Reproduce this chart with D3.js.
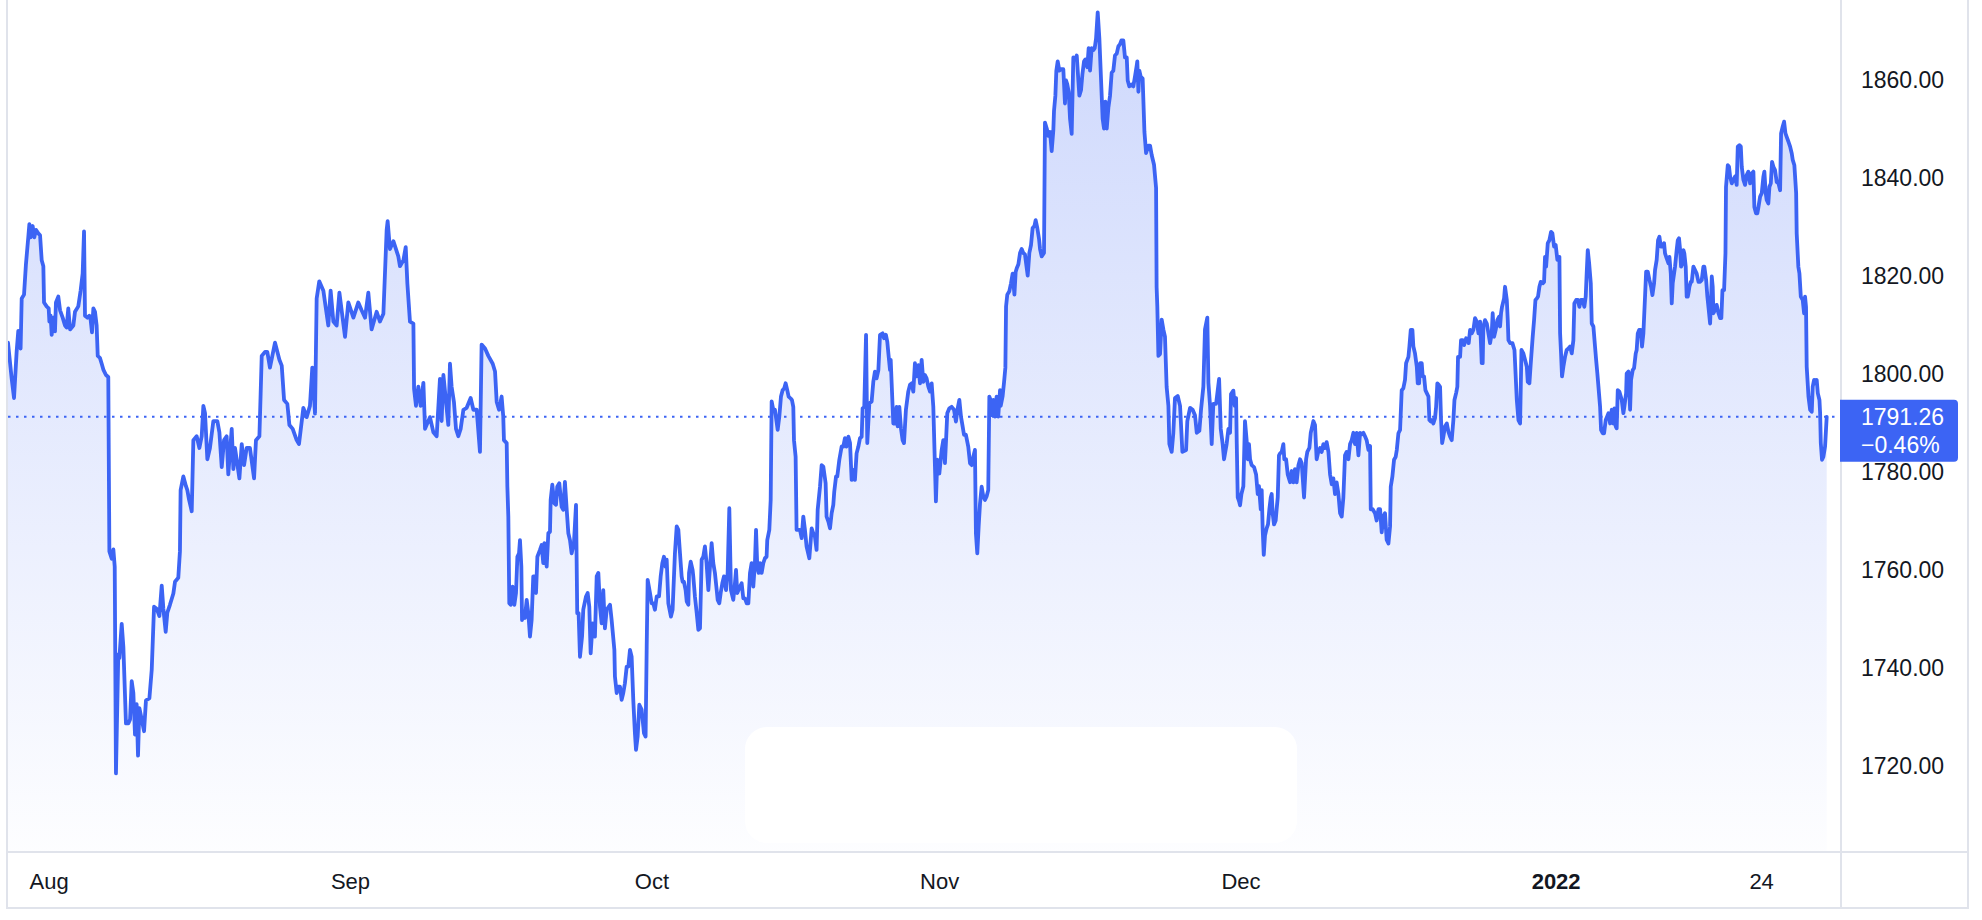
<!DOCTYPE html>
<html>
<head>
<meta charset="utf-8">
<script src="https://cdn.jsdelivr.net/npm/d3@7"></script>
<style>
  html, body { margin: 0; padding: 0; background: #ffffff; }
  svg { display: block; }
  text { font-family: "Liberation Sans", Arial, sans-serif; }
</style>
</head>
<body>
<svg id="chart" width="1982" height="920"></svg>
<script>
// ---- data (trading-day offset from 2021-07-28, price) ----
const series = [
[0,1806.4],[0.27,1799.0],[0.44,1795.1],[0.63,1804.5],[0.75,1808.8],[0.92,1805.2],[1.0,1815.4],[1.17,1816.2],[1.31,1822.4],[1.48,1827.9],[1.56,1830.6],[1.65,1827.9],[1.80,1830.2],[1.92,1827.9],[2.04,1829.4],[2.21,1828.7],[2.34,1828.3],[2.46,1823.2],[2.58,1822.0],[2.63,1814.6],[2.82,1813.8],[2.97,1813.4],[3.02,1810.7],[3.11,1811.9],[3.19,1808.0],[3.31,1811.5],[3.43,1808.7],[3.50,1814.6],[3.67,1815.8],[3.80,1813.0],[3.99,1811.5],[4.16,1809.9],[4.28,1809.5],[4.40,1813.4],[4.53,1809.1],[4.65,1809.5],[4.77,1809.9],[4.89,1812.7],[5.13,1813.8],[5.30,1817.0],[5.45,1820.5],[5.55,1829.1],[5.62,1811.9],[5.79,1811.5],[5.94,1811.9],[6.03,1811.1],[6.13,1808.5],[6.23,1813.4],[6.35,1812.7],[6.47,1809.9],[6.55,1803.7],[6.71,1803.3],[6.84,1802.1],[6.96,1800.9],[7.15,1799.8],[7.32,1799.4],[7.40,1763.8],[7.57,1762.3],[7.69,1764.2],[7.79,1760.7],[7.88,1718.5],[8.05,1742.8],[8.13,1742.0],[8.30,1749.0],[8.42,1744.3],[8.61,1728.7],[8.78,1728.7],[8.91,1729.5],[9.03,1737.3],[9.15,1734.9],[9.27,1726.4],[9.39,1732.6],[9.49,1722.1],[9.59,1731.8],[9.76,1729.5],[9.93,1727.1],[10.07,1733.4],[10.32,1733.8],[10.49,1739.6],[10.66,1752.5],[10.85,1752.1],[11.05,1750.6],[11.22,1756.8],[11.34,1752.1],[11.51,1747.4],[11.63,1751.3],[11.82,1752.9],[12.07,1755.2],[12.19,1757.6],[12.43,1758.4],[12.55,1763.8],[12.60,1776.3],[12.80,1779.1],[12.99,1777.1],[13.09,1776.3],[13.21,1774.4],[13.41,1772.0],[13.53,1786.5],[13.77,1787.3],[13.97,1784.9],[14.14,1787.3],[14.26,1793.5],[14.38,1792.0],[14.55,1782.6],[14.74,1784.9],[14.99,1790.4],[15.28,1790.4],[15.43,1788.1],[15.60,1781.0],[15.77,1786.5],[15.96,1787.3],[16.08,1779.5],[16.33,1788.8],[16.45,1780.6],[16.57,1784.9],[16.89,1778.7],[17.06,1785.7],[17.23,1781.4],[17.42,1784.9],[17.66,1784.9],[17.96,1778.7],[18.10,1786.5],[18.35,1787.3],[18.44,1795.9],[18.52,1803.7],[18.76,1804.5],[18.93,1804.5],[19.12,1801.3],[19.49,1806.4],[19.81,1802.9],[19.98,1801.7],[20.15,1794.7],[20.39,1793.9],[20.54,1789.6],[20.78,1788.8],[21.07,1786.5],[21.24,1785.7],[21.56,1793.1],[21.80,1791.2],[22.04,1793.5],[22.21,1801.3],[22.41,1791.9],[22.53,1815.4],[22.72,1818.9],[23.02,1817.0],[23.14,1814.6],[23.38,1809.9],[23.55,1817.0],[23.75,1810.7],[23.99,1809.9],[24.19,1816.6],[24.60,1807.6],[24.84,1814.6],[25.21,1811.5],[25.57,1814.6],[25.81,1813.0],[26.06,1811.5],[26.30,1816.6],[26.54,1809.1],[26.91,1812.7],[27.15,1810.7],[27.40,1812.3],[27.64,1829.4],[27.71,1831.2],[27.88,1825.5],[28.13,1827.1],[28.49,1824.0],[28.61,1822.0],[28.86,1823.2],[29.03,1825.9],[29.15,1818.5],[29.34,1810.7],[29.59,1810.3],[29.64,1797.0],[29.78,1793.5],[29.95,1797.4],[30.12,1793.5],[30.32,1798.2],[30.44,1788.8],[30.80,1791.2],[31.05,1788.1],[31.29,1787.3],[31.53,1799.0],[31.65,1790.4],[31.78,1799.8],[32.14,1789.6],[32.26,1802.1],[32.38,1797.4],[32.55,1794.3],[32.70,1788.8],[32.87,1787.3],[33.04,1788.8],[33.24,1792.7],[33.48,1793.1],[33.77,1795.1],[33.97,1792.7],[34.21,1792.7],[34.45,1784.1],[34.57,1806.0],[34.82,1805.2],[35.06,1803.7],[35.38,1802.1],[35.55,1800.5],[35.67,1794.3],[35.84,1792.7],
[36.03,1795.4],[36.15,1791.3],[36.20,1786.5],[36.40,1785.9],[36.45,1777.0],[36.52,1770.9],[36.59,1753.2],[36.69,1752.9],[36.83,1756.6],[36.96,1752.9],[37.08,1755.3],[37.18,1762.7],[37.30,1763.4],[37.37,1766.1],[37.47,1760.7],[37.52,1749.8],[37.61,1751.2],[37.73,1750.2],[37.86,1753.9],[37.98,1751.2],[38.10,1746.4],[38.22,1749.8],[38.34,1758.7],[38.49,1758.7],[38.54,1755.3],[38.64,1762.7],[38.83,1764.1],[38.95,1765.1],[39.07,1761.4],[39.15,1765.5],[39.32,1760.7],[39.44,1767.5],[39.56,1767.8],[39.61,1774.3],[39.73,1777.4],[39.88,1773.6],[40.00,1773.3],[40.09,1777.0],[40.24,1777.7],[40.41,1772.9],[40.53,1772.3],[40.65,1778.0],[40.78,1772.3],[40.90,1767.5],[41.02,1766.1],[41.14,1763.4],[41.31,1765.5],[41.46,1773.3],[41.55,1751.2],[41.65,1751.2],[41.75,1742.3],[41.90,1746.4],[41.99,1751.9],[42.19,1754.6],[42.31,1755.3],[42.43,1752.5],[42.53,1743.0],[42.67,1749.1],[42.84,1746.4],[42.97,1758.7],[43.09,1759.4],[43.21,1752.5],[43.33,1749.1],[43.45,1755.9],[43.57,1748.1],[43.70,1751.9],[43.94,1752.9],[44.06,1749.8],[44.26,1743.7],[44.30,1738.3],[44.43,1734.9],[44.55,1736.2],[44.67,1736.2],[44.79,1733.5],[44.91,1734.9],[45.03,1736.9],[45.16,1740.3],[45.28,1740.3],[45.40,1743.7],[45.52,1742.3],[45.64,1733.5],[45.76,1726.7],[45.84,1723.3],[45.96,1726.0],[46.08,1732.5],[46.25,1731.5],[46.42,1726.7],[46.54,1726.0],[46.62,1744.4],[46.69,1758.0],[46.86,1755.3],[46.98,1753.2],[47.10,1753.2],[47.22,1751.9],[47.35,1754.6],[47.52,1754.6],[47.64,1758.7],[47.76,1761.4],[47.88,1762.7],[48.00,1760.7],[48.08,1762.1],[48.20,1753.2],[48.39,1750.5],[48.51,1751.9],[48.68,1763.4],[48.81,1768.9],[48.93,1768.2],[49.05,1763.4],[49.17,1758.7],[49.24,1757.6],[49.34,1757.6],[49.46,1755.9],[49.54,1753.6],[49.66,1752.9],[49.71,1759.4],[49.83,1761.7],[49.97,1760.0],[50.02,1758.7],[50.14,1754.6],[50.27,1751.2],[50.39,1747.8],[50.51,1748.1],[50.63,1762.1],[50.75,1762.7],[50.87,1764.8],[50.99,1761.4],[51.12,1755.9],[51.24,1760.7],[51.36,1765.5],[51.48,1761.4],[51.60,1759.4],[51.73,1755.9],[51.80,1753.9],[51.92,1753.2],[52.02,1755.3],[52.14,1757.3],[52.26,1758.7],[52.41,1755.9],[52.53,1759.4],[52.65,1772.6],[52.77,1755.9],[52.94,1753.9],[53.06,1757.3],[53.14,1760.0],[53.23,1755.3],[53.38,1756.3],[53.55,1757.3],[53.67,1754.2],[53.79,1754.2],[53.92,1753.2],[54.04,1753.2],[54.16,1759.4],[54.28,1761.4],[54.40,1756.6],[54.52,1761.4],[54.60,1768.2],[54.69,1760.7],[54.79,1759.4],[54.89,1761.4],[55.01,1759.4],[55.13,1761.4],[55.25,1762.4],[55.37,1762.7],[55.42,1766.1],[55.57,1768.2],[55.67,1774.3],[55.74,1794.4],[55.86,1792.7],[55.98,1792.7],[56.18,1788.6],[56.30,1791.3],[56.42,1795.4],[56.54,1796.7],[56.66,1797.1],[56.76,1798.1],[56.88,1796.7],[56.98,1795.4],[57.13,1795.0],[57.22,1794.7],[57.32,1793.3],[57.37,1786.5],[57.49,1783.1],[57.56,1768.2],[57.69,1768.2],[57.81,1768.2],[57.93,1766.5],[58.05,1770.9],[58.17,1768.2],[58.29,1764.8],[58.49,1762.4],[58.66,1768.5],[58.78,1767.5],[58.90,1766.8],[59.02,1764.1],[59.10,1772.3],[59.27,1777.0],[59.39,1781.4],[59.51,1781.1],[59.68,1777.7],[59.75,1770.9],[59.88,1769.9],[60.00,1768.5],[60.12,1771.6],[60.24,1773.3],[60.31,1776.0],[60.44,1779.1],[60.53,1779.1],[60.68,1782.5],[60.85,1785.2],[60.97,1785.2],[61.09,1786.9],[61.21,1785.2],[61.34,1787.2],[61.46,1785.9],[61.58,1778.4],[61.70,1780.4],[61.82,1778.4],[61.94,1783.8],[62.07,1785.2],[62.19,1786.9],[62.31,1787.2],[62.38,1793.0],[62.50,1793.3],[62.63,1808.0],[62.72,1785.9],[62.87,1794.0],[63.04,1794.4],[63.16,1798.4],[63.28,1800.5],[63.40,1799.1],[63.53,1800.8],[63.65,1808.0],[63.84,1808.3],[63.94,1807.3],[64.08,1808.0],[64.18,1806.6],[64.26,1804.2],[64.38,1800.8],[64.43,1802.9],[64.50,1798.1],[64.62,1789.9],[64.74,1789.9],[64.86,1793.3],[64.94,1789.3],[65.06,1793.3],[65.18,1788.9],[65.30,1786.5],[65.40,1785.9],[65.54,1792.7],[65.71,1796.4],[65.84,1797.8],[65.96,1798.1],[66.08,1796.4],[66.20,1802.2],[66.32,1799.5],[66.45,1801.8],[66.57,1798.1],[66.69,1802.9],[66.81,1798.4],[66.93,1799.8],[67.05,1799.1],[67.18,1797.4],[67.30,1796.4],[67.42,1798.1],[67.54,1793.3],[67.66,1781.1],[67.73,1774.0],[67.83,1782.5],[67.98,1779.7],[68.15,1784.5],[68.27,1786.5],[68.39,1781.8],[68.47,1786.5],[68.56,1792.0],[68.71,1793.0],[68.88,1793.3],[69.05,1792.7],[69.19,1790.3],[69.32,1793.0],[69.44,1794.7],[69.56,1791.3],[69.68,1789.3],[69.78,1787.6],[69.92,1787.6],[70.09,1785.2],[70.22,1781.8],[70.34,1781.4],[70.46,1783.1],[70.58,1784.5],[70.65,1767.5],[70.75,1763.4],[70.85,1768.9],[70.95,1773.6],[71.07,1777.0],[71.19,1775.0],[71.31,1774.3],[71.43,1775.0],[71.55,1776.3],[71.63,1795.4],[71.72,1794.7],[71.80,1791.6],[71.92,1794.7],[72.04,1791.3],[72.16,1795.4],[72.28,1791.3],[72.41,1796.7],
[72.46,1793.5],[72.60,1795.5],[72.70,1798.2],[72.80,1801.3],[72.85,1813.8],[72.94,1816.2],[73.09,1816.9],[73.21,1818.5],[73.33,1820.5],[73.46,1816.2],[73.55,1820.8],[73.63,1821.6],[73.75,1822.4],[73.87,1824.7],[73.99,1825.5],[74.11,1824.7],[74.23,1824.4],[74.36,1821.6],[74.43,1820.1],[74.55,1824.7],[74.67,1826.3],[74.79,1829.8],[74.92,1830.2],[75.01,1831.4],[75.13,1829.8],[75.26,1827.5],[75.33,1825.5],[75.45,1824.0],[75.62,1824.7],[75.69,1851.3],[75.82,1850.1],[75.94,1848.6],[76.06,1849.4],[76.18,1845.5],[76.30,1849.7],[76.35,1853.7],[76.45,1856.8],[76.52,1861.9],[76.62,1863.8],[76.74,1861.9],[76.86,1862.2],[77.03,1862.2],[77.15,1855.2],[77.23,1859.9],[77.32,1859.1],[77.42,1857.6],[77.52,1852.1],[77.64,1849.0],[77.76,1864.6],[77.91,1864.2],[78.01,1865.0],[78.10,1861.1],[78.20,1856.8],[78.32,1857.9],[78.42,1861.1],[78.54,1863.8],[78.64,1864.2],[78.78,1862.6],[78.88,1866.5],[78.98,1861.9],[79.10,1866.5],[79.22,1866.1],[79.32,1866.5],[79.42,1868.5],[79.54,1873.8],[79.66,1868.5],[79.83,1856.8],[79.90,1852.1],[80.00,1850.1],[80.10,1855.6],[80.20,1850.1],[80.32,1854.4],[80.44,1856.8],[80.56,1861.5],[80.68,1861.9],[80.80,1865.0],[80.93,1865.4],[81.05,1866.9],[81.17,1867.3],[81.27,1868.1],[81.41,1868.1],[81.53,1864.6],[81.66,1864.6],[81.73,1859.9],[81.85,1858.7],[82.02,1859.1],[82.14,1858.7],[82.26,1860.7],[82.39,1863.0],[82.43,1863.8],[82.51,1857.6],[82.58,1861.9],[82.68,1860.7],[82.82,1860.3],[82.95,1849.4],[83.07,1845.1],[83.24,1846.6],[83.36,1846.6],[83.48,1844.7],[83.65,1842.7],[83.80,1838.0],[83.84,1817.7],[83.89,1813.8],[83.97,1803.7],[84.09,1804.1],[84.21,1811.1],[84.33,1809.1],[84.45,1807.6],[84.57,1797.4],[84.70,1793.5],[84.77,1785.7],[84.94,1784.1],[85.06,1788.0],[85.18,1795.1],[85.38,1795.5],[85.55,1793.5],[85.72,1784.1],[85.99,1784.5],[86.08,1790.4],[86.28,1793.1],[86.47,1792.7],[86.64,1791.6],[86.77,1788.0],[86.96,1788.4],[87.08,1792.7],[87.25,1797.4],[87.37,1809.1],[87.54,1811.5],[87.62,1798.2],[87.74,1793.5],[87.86,1785.7],[87.98,1793.9],[88.18,1793.9],[88.40,1799.0],[88.52,1788.8],[88.66,1785.7],[88.76,1782.6],[88.95,1785.7],[89.08,1788.8],[89.20,1788.0],[89.27,1795.9],[89.44,1796.6],[89.54,1793.5],[89.64,1795.1],[89.69,1785.7],[89.76,1774.8],[89.86,1774.0],[89.93,1773.2],[90.03,1775.5],[90.17,1777.1],[90.29,1790.4],[90.41,1786.5],[90.49,1782.6],[90.58,1785.7],[90.66,1782.6],[90.78,1781.4],[90.95,1781.0],[91.10,1779.5],[91.22,1775.5],[91.31,1777.1],[91.44,1772.4],[91.51,1776.3],[91.58,1768.5],[91.66,1763.1],[91.75,1767.0],[91.87,1768.5],[91.97,1769.3],[92.07,1772.4],[92.17,1774.8],[92.24,1775.5],[92.31,1771.6],[92.41,1769.3],[92.53,1770.1],[92.60,1772.4],[92.68,1774.8],[92.77,1783.4],[92.85,1783.8],[92.97,1784.1],[93.09,1785.7],[93.16,1782.6],[93.29,1782.6],[93.41,1779.5],[93.58,1777.9],[93.70,1780.2],[93.82,1777.9],[93.94,1780.6],[94.06,1777.9],[94.19,1781.4],[94.31,1782.6],[94.43,1781.8],[94.60,1774.8],[94.75,1782.6],[94.84,1784.1],[94.99,1784.9],[95.09,1788.0],[95.28,1790.4],[95.40,1789.6],[95.52,1782.6],[95.64,1784.1],[95.77,1784.9],[95.89,1784.1],[96.01,1785.7],[96.13,1784.9],[96.25,1786.1],[96.38,1784.1],[96.50,1779.5],[96.62,1777.5],[96.74,1778.7],[96.86,1775.5],[96.98,1777.9],[97.11,1775.5],[97.23,1771.6],[97.35,1770.9],[97.47,1774.8],[97.59,1783.4],[97.71,1784.1],[97.84,1782.6],[97.96,1785.7],[98.08,1786.5],[98.20,1788.0],[98.32,1785.7],[98.44,1788.0],[98.57,1783.4],[98.69,1788.0],[98.81,1787.7],[98.93,1788.0],[99.05,1787.3],[99.17,1786.5],[99.30,1784.5],[99.42,1785.3],[99.47,1772.4],[99.61,1772.4],[99.78,1771.6],[99.90,1770.1],[100.03,1772.4],[100.15,1772.4],[100.27,1767.7],[100.39,1770.9],[100.51,1771.6],[100.63,1766.2],[100.76,1765.4],
[100.88,1768.9],[100.93,1777.0],[101.05,1779.1],[101.17,1782.5],[101.29,1783.1],[101.37,1784.5],[101.49,1787.9],[101.61,1788.6],[101.73,1796.7],[101.85,1797.1],[101.97,1798.8],[102.05,1802.2],[102.22,1803.5],[102.29,1805.6],[102.39,1809.0],[102.51,1809.0],[102.58,1805.6],[102.70,1804.2],[102.83,1801.5],[102.90,1798.1],[103.00,1798.1],[103.07,1802.2],[103.19,1802.2],[103.26,1799.5],[103.36,1799.5],[103.46,1796.7],[103.56,1796.1],[103.68,1795.4],[103.75,1790.6],[103.85,1790.3],[103.95,1790.6],[104.04,1789.9],[104.16,1791.0],[104.24,1793.3],[104.33,1798.1],[104.43,1797.8],[104.53,1797.4],[104.60,1790.6],[104.68,1785.9],[104.77,1787.2],[104.89,1789.3],[105.02,1789.9],[105.14,1788.2],[105.26,1787.2],[105.38,1786.5],[105.50,1790.6],[105.58,1794.7],[105.70,1796.1],[105.79,1797.4],[105.84,1803.5],[105.99,1803.5],[106.06,1806.9],[106.18,1806.9],[106.28,1805.9],[106.43,1807.3],[106.52,1806.9],[106.62,1806.3],[106.72,1809.0],[106.84,1808.3],[106.96,1809.0],[107.08,1811.4],[107.21,1810.7],[107.33,1808.3],[107.45,1810.7],[107.57,1802.2],[107.64,1802.2],[107.69,1809.7],[107.81,1811.0],[107.94,1810.3],[108.06,1808.3],[108.18,1806.3],[108.30,1808.3],[108.37,1812.4],[108.47,1807.6],[108.59,1809.0],[108.71,1811.0],[108.84,1811.7],[108.91,1809.7],[108.98,1812.4],[109.05,1813.7],[109.20,1815.4],[109.27,1817.8],[109.40,1815.1],[109.47,1811.0],[109.52,1806.9],[109.64,1806.3],[109.81,1806.3],[109.96,1804.9],[110.13,1794.7],[110.25,1790.6],[110.37,1789.9],[110.47,1804.9],[110.61,1804.2],[110.73,1802.9],[110.86,1801.5],[110.93,1798.4],[111.05,1798.1],[111.15,1802.2],[111.29,1807.6],[111.39,1811.0],[111.49,1815.1],[111.59,1815.4],[111.68,1815.8],[111.78,1817.8],[111.88,1818.8],[112.02,1818.5],[112.12,1818.8],[112.19,1823.9],[112.27,1821.9],[112.39,1826.7],[112.51,1827.3],[112.63,1829.0],[112.73,1828.7],[112.85,1826.0],[112.97,1826.3],[113.09,1823.3],[113.24,1823.9],[113.29,1808.3],[113.36,1804.2],[113.43,1799.5],[113.53,1801.5],[113.65,1803.5],[113.77,1804.9],[113.90,1805.2],[114.02,1805.6],[114.14,1804.2],[114.26,1806.9],[114.33,1814.4],[114.46,1815.1],[114.58,1815.1],[114.70,1813.7],[114.80,1815.1],[114.94,1815.1],[115.06,1813.7],[115.16,1815.8],[115.23,1820.5],[115.31,1825.3],[115.41,1822.6],[115.53,1818.5],[115.60,1810.3],[115.72,1809.7],[115.84,1805.6],[115.92,1802.9],[116.01,1800.1],[116.09,1797.4],[116.21,1793.3],[116.28,1788.6],[116.40,1787.9],[116.50,1787.9],[116.62,1790.6],[116.72,1791.3],[116.82,1792.0],[116.94,1789.9],[117.06,1792.7],[117.18,1789.9],[117.25,1793.0],[117.35,1789.3],[117.42,1788.9],[117.50,1796.7],[117.62,1796.4],[117.72,1795.4],[117.79,1794.7],[117.91,1792.0],[117.98,1793.3],[118.11,1796.1],[118.15,1800.1],[118.28,1800.5],[118.40,1792.7],[118.47,1798.8],[118.59,1800.8],[118.69,1801.2],[118.81,1804.2],[118.88,1804.9],[118.96,1808.3],[119.06,1809.0],[119.18,1809.0],[119.27,1805.6],[119.37,1808.3],[119.49,1815.8],[119.57,1820.9],[119.69,1820.9],[119.81,1819.2],[119.93,1817.8],[120.03,1816.1],[120.15,1818.5],[120.22,1821.2],[120.34,1823.3],[120.44,1827.3],[120.54,1828.0],[120.64,1826.0],[120.76,1826.0],[120.88,1826.7],[120.95,1824.6],[121.07,1823.6],[121.20,1822.6],[121.27,1823.9],[121.37,1820.5],[121.44,1814.4],[121.51,1818.5],[121.61,1820.5],[121.68,1821.9],[121.80,1825.3],[121.88,1827.3],[121.97,1827.7],[122.05,1825.3],[122.12,1821.9],[122.22,1822.6],[122.29,1825.3],[122.36,1824.6],[122.46,1821.9],[122.53,1815.8],[122.61,1815.8],[122.66,1816.5],[122.73,1817.8],[122.83,1818.8],[122.90,1818.8],[123.02,1821.9],[123.14,1821.2],[123.26,1820.5],[123.39,1818.8],[123.51,1818.8],[123.63,1819.2],[123.75,1821.9],[123.82,1821.9],[123.95,1819.2],[124.04,1815.8],[124.14,1813.1],[124.24,1810.3],[124.31,1815.1],[124.36,1819.9],[124.43,1817.8],[124.48,1812.4],[124.60,1813.1],[124.72,1814.1],[124.85,1812.4],[124.97,1811.4],[125.06,1811.4],[125.14,1817.1],[125.26,1817.1],[125.36,1824.6],[125.40,1838.2],[125.53,1842.6],[125.62,1842.3],[125.70,1840.3],[125.82,1838.9],[125.94,1839.6],[126.06,1840.3],[126.18,1838.6],[126.26,1846.4],[126.38,1846.7],[126.48,1846.4],[126.55,1842.3],[126.67,1839.6],[126.79,1838.6],[126.91,1840.6],[127.03,1841.3],[127.16,1838.9],[127.28,1840.9],[127.40,1841.3],[127.47,1834.1],[127.59,1832.8],[127.69,1832.8],[127.77,1834.1],[127.89,1836.2],[128.01,1836.9],[128.13,1840.3],[128.20,1841.3],[128.30,1836.9],[128.37,1835.5],[128.49,1834.8],[128.57,1838.2],[128.67,1838.9],[128.76,1843.3],[128.86,1842.3],[128.98,1841.6],[129.10,1839.2],[129.23,1838.9],[129.35,1837.5],[129.42,1849.1],[129.54,1850.5],[129.64,1851.5],[129.74,1849.1],[129.83,1848.4],[129.96,1847.4],[130.08,1846.4],[130.20,1845.0],[130.27,1843.7],[130.39,1842.6],[130.52,1836.9],[130.56,1828.7],[130.68,1821.9],[130.76,1820.5],[130.86,1815.8],[131.00,1815.1],[131.10,1812.4],[131.17,1815.8],[131.24,1813.7],[131.29,1801.5],[131.42,1795.4],[131.54,1792.7],[131.66,1792.3],[131.73,1797.4],[131.83,1798.8],[131.90,1798.1],[132.02,1798.8],[132.10,1796.1],[132.22,1794.7],[132.27,1792.0],[132.32,1785.9],[132.41,1782.5],[132.51,1783.1],[132.63,1785.2],[132.75,1791.26]
];

const startDate = "2021-07-28";          // trading day 0
const lastDay = 132.75;                  // end of the visible range (trading days)
const tickLabels = ["Aug", "Sep", "Oct", "Nov", "Dec", "2022", "24"];
const tickDates  = ["2021-08-02", "2021-09-01", "2021-10-01", "2021-11-01", "2021-12-01", "2022-01-03", "2022-01-24"];
const tickBold   = [false, false, false, false, false, true, false];
const priceTicks = [1720, 1740, 1760, 1780, 1800, 1820, 1840, 1860];
const changePct  = -0.46;

// ---- layout ----
const W = 1982, H = 920;
const plotLeft = 8, plotRight = 1841, plotBottom = 852, axisBottom = 908, scaleRight = 1968;
const lineColor = "#3c64f4", gridColor = "#e0e3eb", textColor = "#131722";

const svg = d3.select("#chart");
svg.append("rect").attr("width", W).attr("height", H).attr("fill", "#ffffff");

// trading-day index (weekdays only) for a date
const parse = d3.timeParse("%Y-%m-%d");
function tradingIndex(s) {
  return d3.timeDay.range(parse(startDate), parse(s)).filter(d => d.getDay() % 6 !== 0).length;
}

const x = d3.scaleLinear().domain([0, lastDay]).range([plotLeft, 1826.7]);
const y = d3.scaleLinear().domain([1720, 1860]).range([766, 80]);

// gradient
const defs = svg.append("defs");
const maxV = d3.max(series, d => d[1]);
const grad = defs.append("linearGradient").attr("id", "fillGrad")
  .attr("gradientUnits", "userSpaceOnUse")
  .attr("x1", 0).attr("x2", 0).attr("y1", y(maxV)).attr("y2", plotBottom);
grad.append("stop").attr("offset", 0).attr("stop-color", lineColor).attr("stop-opacity", 0.25);
grad.append("stop").attr("offset", 1).attr("stop-color", lineColor).attr("stop-opacity", 0.01);

const area = d3.area().x(d => x(d[0])).y0(plotBottom).y1(d => y(d[1]));
svg.append("path").datum(series).attr("d", area).attr("fill", "url(#fillGrad)");

// white rounded panel overlay near the bottom
svg.append("rect").attr("x", 745).attr("y", 727).attr("width", 552).attr("height", 116)
  .attr("rx", 22).attr("fill", "#ffffff");

// last price dotted line
const lastPrice = series[series.length - 1][1];
svg.append("line").attr("x1", plotLeft).attr("x2", plotRight)
  .attr("y1", y(lastPrice)).attr("y2", y(lastPrice))
  .attr("stroke", lineColor).attr("stroke-width", 2).attr("stroke-dasharray", "2.5,5.5");

// price line
const line = d3.line().x(d => x(d[0])).y(d => y(d[1]));
svg.append("path").datum(series).attr("d", line)
  .attr("fill", "none").attr("stroke", lineColor).attr("stroke-width", 3.8)
  .attr("stroke-linejoin", "round").attr("stroke-linecap", "round");

// frame lines
const frame = svg.append("g").attr("stroke", gridColor).attr("stroke-width", 2);
[7, plotRight, scaleRight].forEach(xx => frame.append("line").attr("x1", xx).attr("x2", xx).attr("y1", 0).attr("y2", axisBottom));
[plotBottom, axisBottom].forEach(yy => frame.append("line").attr("x1", 6).attr("x2", scaleRight + 1).attr("y1", yy).attr("y2", yy));

// price axis labels
const fmt = d3.format(".2f");
svg.append("g").selectAll("text").data(priceTicks).join("text")
  .attr("x", 1861).attr("y", d => y(d)).attr("dy", "0.36em")
  .attr("font-size", 23).attr("fill", textColor).text(d => fmt(d));

// time axis labels
svg.append("g").selectAll("text").data(tickLabels).join("text")
  .attr("x", (d, i) => x(tradingIndex(tickDates[i])))
  .attr("y", 881).attr("dy", "0.36em").attr("text-anchor", "middle")
  .attr("font-size", 22).attr("font-weight", (d, i) => tickBold[i] ? "bold" : "normal")
  .attr("fill", textColor).text(d => d);

// last price label
const ly = y(lastPrice);
const bx = plotRight - 1, bw = 118, btop = ly - 17, bh = 62, r = 4;
svg.append("path")
  .attr("d", `M${bx},${btop} H${bx + bw - r} Q${bx + bw},${btop} ${bx + bw},${btop + r} V${btop + bh - r} Q${bx + bw},${btop + bh} ${bx + bw - r},${btop + bh} H${bx} Z`)
  .attr("fill", lineColor);
svg.append("text").attr("x", 1861).attr("y", ly).attr("dy", "0.36em")
  .attr("font-size", 23).attr("fill", "#ffffff").text(fmt(lastPrice));
svg.append("text").attr("x", 1861).attr("y", ly + 28).attr("dy", "0.36em")
  .attr("font-size", 23).attr("fill", "#ffffff").text((changePct < 0 ? "\u2212" : "+") + Math.abs(changePct).toFixed(2) + "%");
</script>
</body>
</html>
